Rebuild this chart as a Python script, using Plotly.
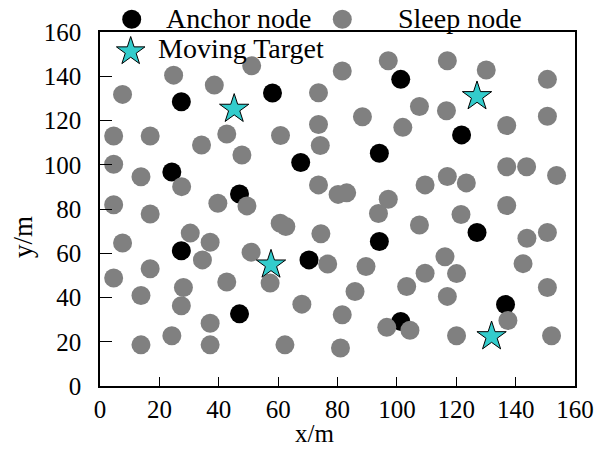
import math
import plotly.graph_objects as go

# ---- data (metres) ----
anchor_x = [27.4, 58.1, 101.3, 24.2, 67.6, 94.1, 121.8, 47.0, 27.4, 70.4, 94.1, 127.0, 47.0, 101.3, 136.6]
anchor_y = [128.5, 132.4, 138.6, 96.7, 101.0, 105.2, 113.5, 86.8, 61.1, 57.0, 65.3, 69.4, 32.6, 29.2, 36.8]

sleep_x = [24.8, 38.5, 51.1, 7.6, 4.6, 16.9, 34.2, 42.7, 47.8, 4.6,
           13.8, 27.5, 49.5, 39.7, 4.6, 16.9, 30.4, 7.6, 37.1, 34.5,
           50.9, 16.9, 4.6, 28.1, 42.7, 13.8, 27.4, 37.1, 24.2, 13.8,
           37.1, 97.1, 81.6, 73.6, 107.6, 88.4, 73.6, 102.0, 60.8, 74.2,
           109.5, 73.6, 80.2, 83.1, 97.1, 93.8, 107.6, 60.7, 62.6, 74.4,
           76.7, 89.6, 57.3, 103.3, 85.9, 68.0, 81.6, 96.6, 104.4, 62.3,
           81.0, 117.0, 130.1, 150.7, 116.7, 150.7, 137.0, 137.0, 143.7, 153.8,
           117.0, 123.4, 137.0, 121.6, 143.8, 150.7, 116.2, 142.5, 109.5, 120.1,
           150.7, 117.0, 137.4, 120.1, 152.1]
sleep_y = [140.5, 136.0, 144.7, 131.8, 113.0, 113.0, 108.9, 113.9, 104.4, 100.2,
           94.6, 90.1, 81.4, 82.6, 81.9, 77.7, 69.1, 64.6, 65.0, 57.0,
           60.5, 53.0, 48.8, 44.5, 47.0, 40.9, 36.3, 28.4, 22.7, 18.6,
           18.6, 147.0, 142.4, 132.5, 126.3, 121.7, 118.2, 116.9, 113.2, 108.7,
           90.9, 90.9, 86.6, 87.3, 84.4, 78.0, 72.8, 73.6, 72.1, 68.8,
           55.1, 54.0, 46.5, 45.0, 42.7, 37.0, 32.2, 26.5, 25.2, 18.6,
           17.2, 147.0, 142.8, 138.6, 124.4, 121.9, 117.7, 99.1, 99.1, 95.1,
           94.7, 91.8, 81.6, 77.5, 66.8, 69.4, 58.4, 55.3, 51.0, 50.8,
           44.5, 40.5, 29.6, 22.7, 22.7]

target_x = [45.2, 127.0, 57.6, 131.9]
target_y = [125.2, 130.9, 54.8, 22.4]

x_ticks = [0, 20, 40, 60, 80, 100, 120, 140, 160]
y_ticks = [0, 20, 40, 60, 80, 100, 120, 140, 160]

legend_names = ["Anchor node", "Sleep node", "Moving Target"]

# ---- styles ----
FONT = "Liberation Serif, Times New Roman, serif"
ANCHOR_C = "#000000"
SLEEP_C = "#808080"
TARGET_C = "#33CCCC"

W, H = 600, 449
ML, MR, MT, MB = 100, 25, 32, 63
PW, PH = W - ML - MR, H - MT - MB


def px2paper(px, py):
    return (px - ML) / PW, (H - MB - py) / PH


fig = go.Figure()
fig.add_trace(go.Scatter(x=anchor_x, y=anchor_y, mode="markers", name=legend_names[0],
                         marker=dict(size=19, color=ANCHOR_C), showlegend=False))
fig.add_trace(go.Scatter(x=sleep_x, y=sleep_y, mode="markers", name=legend_names[1],
                         marker=dict(size=19, color=SLEEP_C), showlegend=False))
fig.add_trace(go.Scatter(x=target_x, y=target_y, mode="markers", name=legend_names[2],
                         marker=dict(size=22, color=TARGET_C, symbol="star",
                                     line=dict(color="black", width=1)),
                         showlegend=False))

# ---- manual legend ----
shapes = []
annotations = []


def circle_key(cx, cy, color, d=19):
    ax, ay = px2paper(cx, cy)
    shapes.append(dict(type="circle", xref="paper", yref="paper",
                       xsizemode="pixel", ysizemode="pixel", xanchor=ax, yanchor=ay,
                       x0=-d / 2, x1=d / 2, y0=-d / 2, y1=d / 2,
                       fillcolor=color, line=dict(width=0), layer="above"))


def star_key(cx, cy, R=15.0):
    ax, ay = px2paper(cx, cy)
    r = R * 0.382
    pts = []
    for k in range(10):
        ang = math.pi / 2 + k * math.pi / 5
        rad = R if k % 2 == 0 else r
        pts.append((rad * math.cos(ang), rad * math.sin(ang) - 1.5))
    path = "M" + " L".join(f"{x:.2f},{y:.2f}" for x, y in pts) + " Z"
    shapes.append(dict(type="path", xref="paper", yref="paper",
                       xsizemode="pixel", ysizemode="pixel", xanchor=ax, yanchor=ay,
                       path=path, fillcolor=TARGET_C, line=dict(color="black", width=1),
                       layer="above"))


def text_key(tx, ty, text):
    ax, ay = px2paper(tx, ty)
    annotations.append(dict(text=text, xref="paper", yref="paper", x=ax, y=ay,
                            xanchor="left", yanchor="middle", showarrow=False,
                            font=dict(family=FONT, size=28, color="black")))


circle_key(131.7, 19.3, ANCHOR_C)
text_key(164, 18.5, legend_names[0])
circle_key(342.3, 19.3, SLEEP_C)
text_key(396, 18.5, legend_names[1])
star_key(130.7, 50)
text_key(156, 48.7, legend_names[2])

# axis titles
xt = px2paper(314, 449)
annotations.append(dict(text="x/m", xref="paper", yref="paper", x=xt[0], y=xt[1],
                        xanchor="center", yanchor="bottom", showarrow=False,
                        font=dict(family=FONT, size=25, color="black")))
yt = px2paper(23, 237)
annotations.append(dict(text="y/m", xref="paper", yref="paper", x=yt[0], y=yt[1],
                        xanchor="center", yanchor="middle", showarrow=False, textangle=-90,
                        font=dict(family=FONT, size=27, color="black")))

axis_common = dict(range=[0, 160], showgrid=False, zeroline=False, showline=True,
                   linecolor="black", linewidth=1.5, mirror=True, ticks="inside",
                   tickcolor="black", tickwidth=1.2, automargin=False,
                   tickfont=dict(family=FONT, size=25, color="black"))

fig.update_xaxes(**axis_common, tickvals=x_ticks, ticktext=[str(v) for v in x_ticks],
                 ticklen=9, ticklabelstandoff=0)
fig.update_yaxes(**axis_common, tickvals=y_ticks, ticktext=[str(v) for v in y_ticks],
                 ticklen=12, ticklabelstandoff=12)

fig.update_layout(width=W, height=H, margin=dict(l=ML, r=MR, t=MT, b=MB, pad=0, autoexpand=False),
                  paper_bgcolor="white", plot_bgcolor="white",
                  shapes=shapes, annotations=annotations, showlegend=False)

fig.write_html("out.html", config={"displayModeBar": False},
               post_script="document.body.style.margin='0';document.body.style.overflow='hidden';")
